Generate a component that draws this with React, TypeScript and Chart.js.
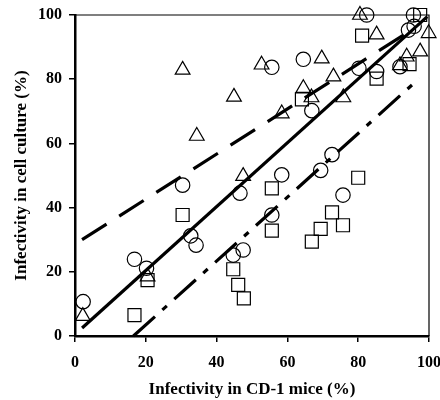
import React, { useEffect, useRef } from 'react';
import { Chart, registerables } from 'chart.js';
Chart.register(...registerables);

// Circles
const circleX = [2.3, 16.8, 20.2, 30.4, 32.7, 34.2, 44.7, 46.6, 47.5, 55.6, 55.6, 58.4, 64.5, 66.9, 69.4, 72.6, 75.7, 80.2, 82.4, 85.2, 91.8, 94.2, 95.8, 95.6];
const circleY = [10.7, 23.9, 21.1, 47.0, 31.2, 28.3, 25.2, 44.5, 26.8, 37.7, 83.7, 50.2, 86.2, 70.2, 51.6, 56.5, 43.9, 83.4, 100, 82.4, 83.9, 95.3, 96.5, 100];

// Triangles
const triX = [2.2, 20.5, 30.4, 34.4, 44.9, 47.5, 52.7, 58.4, 64.5, 66.8, 69.7, 73.0, 75.8, 80.5, 85.2, 91.8, 93.7, 97.5, 99.9];
const triY = [6.2, 18.5, 82.9, 62.3, 74.5, 49.8, 84.5, 69.3, 77.2, 74.3, 86.4, 80.8, 74.3, 100, 93.9, 84.3, 87.0, 88.6, 94.3];

// Squares
const sqX = [16.8, 20.5, 30.4, 44.7, 46.1, 47.7, 55.6, 55.6, 64.1, 66.9, 69.4, 72.6, 75.7, 80.0, 81.1, 85.2, 94.5, 97.5];
const sqY = [6.5, 17.4, 37.7, 20.8, 15.9, 11.7, 46.0, 32.8, 73.7, 29.4, 33.4, 38.5, 34.5, 49.3, 93.6, 80.2, 84.7, 100];

// Lines (endpoints)
const solidX = [2, 99.5];
const solidY = [2.5, 99.5];
const upperX = [2, 96];
const upperY = [30, 96];
const lowerX = [16.5, 97.3];
const lowerY = [0, 80.3];

const xTicks = [0, 20, 40, 60, 80, 100];
const yTicks = [0, 20, 40, 60, 80, 100];

const FAMILY = '"Liberation Serif", "Times New Roman", serif';

const toPts = (xs: number[], ys: number[]) => xs.map((x, i) => ({ x, y: ys[i] }));

export default function App() {
  const ref = useRef<HTMLCanvasElement>(null);
  useEffect(() => {
    document.body.style.margin = '0';
    const frame = {
      id: 'frame',
      afterDraw(chart: any) {
        const { ctx, chartArea } = chart;
        const { left, right, top, bottom } = chartArea;
        ctx.save();
        ctx.strokeStyle = '#000';
        ctx.lineWidth = 1.2;
        ctx.beginPath();
        ctx.moveTo(left, top);
        ctx.lineTo(right, top);
        ctx.lineTo(right, bottom);
        ctx.stroke();
        ctx.restore();
      },
    };
    const markerBase = {
      borderColor: '#000',
      backgroundColor: 'rgba(0,0,0,0)',
      borderWidth: 1.2,
      clip: false as any,
    };
    const lineBase = {
      showLine: true,
      pointRadius: 0,
      borderColor: '#000',
      borderWidth: 3.2,
      fill: false,
      tension: 0,
      clip: false as any,
    };
    const tickFont = { family: FAMILY, size: 16, weight: 'bold' as const };
    const titleFont = { family: FAMILY, size: 17, weight: 'bold' as const };
    const chart = new Chart(ref.current as HTMLCanvasElement, {
      type: 'scatter',
      data: {
        datasets: [
          { label: 'solid', data: toPts(solidX, solidY), ...lineBase },
          { label: 'upper', data: toPts(upperX, upperY), ...lineBase, borderDash: [29, 15] },
          { label: 'lower', data: toPts(lowerX, lowerY), ...lineBase, borderDash: [29, 10, 6, 10] },
          { label: 'circles', data: toPts(circleX, circleY), pointStyle: 'circle', pointRadius: 7.2, ...markerBase },
          { label: 'triangles', data: toPts(triX, triY), pointStyle: 'triangle', pointRadius: 8.5, ...markerBase },
          { label: 'squares', data: toPts(sqX, sqY), pointStyle: 'rect', pointRadius: 9.2, ...markerBase },
        ] as any,
      },
      options: {
        animation: false,
        responsive: false,
        devicePixelRatio: 1,
        layout: { padding: { top: 15, right: 11, left: 0, bottom: 0 } },
        plugins: { legend: { display: false }, tooltip: { enabled: false } },
        scales: {
          x: {
            type: 'linear',
            min: 0,
            max: 100,
            afterBuildTicks: (s: any) => { s.ticks = xTicks.map((v) => ({ value: v })); },
            ticks: { font: tickFont, color: '#000', padding: 11, maxRotation: 0 },
            grid: { drawOnChartArea: false, drawTicks: true, tickLength: 6, color: '#000', lineWidth: 1.5 },
            border: { display: true, color: '#000', width: 2.5 },
            title: { display: true, text: 'Infectivity in CD-1 mice (%)', font: titleFont, color: '#000', padding: { top: 0, bottom: 0 } },
            afterFit: (s: any) => { s.height = 64; s.paddingLeft = 0; s.paddingRight = 0; },
          },
          y: {
            type: 'linear',
            min: 0,
            max: 100,
            afterBuildTicks: (s: any) => { s.ticks = yTicks.map((v) => ({ value: v })); },
            ticks: { font: tickFont, color: '#000', padding: 7 },
            grid: { drawOnChartArea: false, drawTicks: true, tickLength: 6, color: '#000', lineWidth: 1.5 },
            border: { display: true, color: '#000', width: 2.5 },
            title: { display: true, text: 'Infectivity in cell culture (%)', font: titleFont, color: '#000', padding: { top: 11, bottom: 0 } },
            afterFit: (s: any) => { s.width = 75; s.paddingTop = 0; s.paddingBottom = 0; },
          },
        },
      } as any,
      plugins: [frame],
    });
    return () => chart.destroy();
  }, []);
  return (
    <div style={{ width: 440, height: 400 }}>
      <canvas ref={ref} width={440} height={400} style={{ display: 'block' }} />
    </div>
  );
}
